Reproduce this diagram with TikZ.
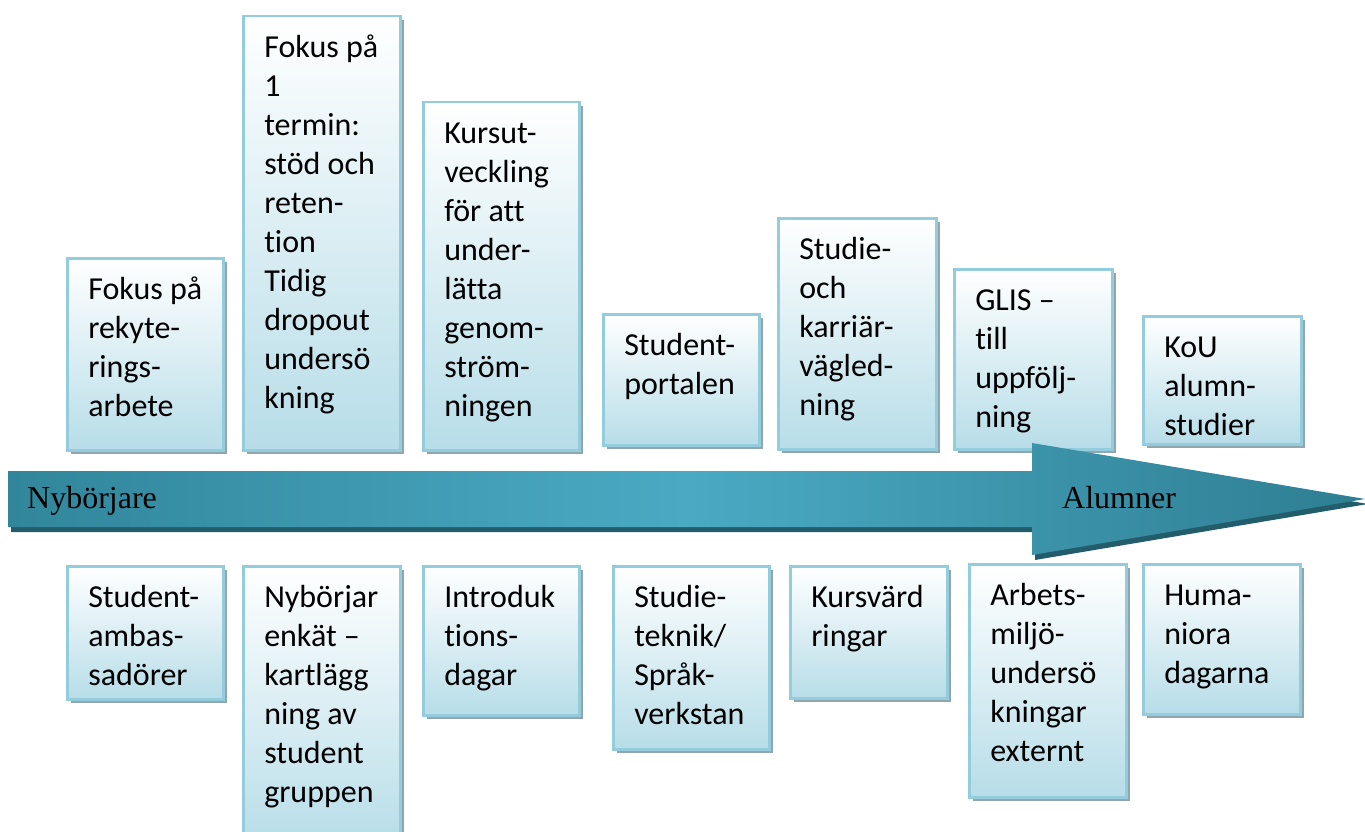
\documentclass[tikz,border=0pt]{standalone}
\usepackage{fontspec}
\setmainfont{Carlito}[Ligatures=NoCommon]
\newfontfamily\labelfont{Liberation Serif}
\usetikzlibrary{shadows}
\definecolor{boxborder}{HTML}{93CDDD}
\definecolor{boxbottom}{HTML}{B7DDE8}
\definecolor{boxshadow}{HTML}{8FA6AE}
\definecolor{arrowdark}{HTML}{31869B}
\definecolor{arrowlight}{HTML}{4AAAC3}
\definecolor{arrowend}{HTML}{2E7E92}
\definecolor{arrowshadow}{HTML}{235D6B}
\newcommand\btext[3]{\parbox[c][#1][t]{#2}{\fontsize{32}{39}\selectfont\leftskip=21pt\rightskip=0pt plus 1fil\parindent=0pt\vspace*{14pt}\strut #3\par}}
\begin{document}
\begin{tikzpicture}[x=1pt,y=-1pt,
  tbox/.style={draw=boxborder, line width=2.5pt, top color=white, bottom color=boxbottom,
    inner sep=0pt, anchor=north west,
    drop shadow={shadow xshift=4pt, shadow yshift=-4pt, fill=boxshadow, opacity=1}},
  lbl/.style={font=\labelfont\fontsize{32}{38}\selectfont, anchor=base west, inner sep=0pt}]
\useasboundingbox (0,0) rectangle (1365,832);
\clip (0,0) rectangle (1365,832);
% top row
\node[tbox] (t1) at (66,257)  {\btext{192pt}{156pt}{Fokus på\\rekyte-\\rings-\\arbete}};
\node[tbox] (t2) at (242,15)  {\btext{434pt}{157pt}{Fokus på\\1\\termin:\\stöd och\\reten-\\tion\\Tidig\\dropout\\undersö\\kning}};
\node[tbox] (t3) at (422,101) {\btext{348pt}{156pt}{Kursut-\\veckling\\för att\\under-\\lätta\\genom-\\ström-\\ningen}};
\node[tbox] (t4) at (602,313) {\btext{131pt}{156pt}{Student-\\portalen}};
\node[tbox] (t5) at (777,217) {\btext{231pt}{158pt}{Studie-\\och\\karriär-\\vägled-\\ning}};
\node[tbox] (t6) at (953,268) {\btext{180pt}{158pt}{GLIS –\\till\\uppfölj-\\ning}};
\node[tbox] (t7) at (1142,315){\btext{128pt}{158pt}{KoU\\alumn-\\studier}};
% bottom row
\node[tbox] (b1) at (66,565)  {\btext{133pt}{156pt}{Student-\\ambas-\\sadörer}};
\node[tbox] (b2) at (242,565) {\btext{280pt}{157pt}{Nybörjar\\enkät –\\kartlägg\\ning av\\student\\gruppen}};
\node[tbox] (b3) at (422,565) {\btext{149pt}{156pt}{Introduk\\tions-\\dagar}};
\node[tbox] (b4) at (612,565) {\btext{183pt}{156pt}{Studie-\\teknik/\\Språk-\\verkstan}};
\node[tbox] (b5) at (789,565) {\btext{132pt}{157pt}{Kursvärd\\ringar}};
\node[tbox] (b6) at (968,563) {\btext{233pt}{157pt}{Arbets-\\miljö-\\undersö\\kningar\\externt}};
\node[tbox] (b7) at (1142,563){\btext{150pt}{157pt}{Huma-\\niora\\dagarna}};
% arrow
\fill[arrowshadow, shift={(3,5)}] (8,471) -- (1032,471) -- (1032,443) -- (1365,499) -- (1032,555) -- (1032,527) -- (8,527) -- cycle;
\shade[left color=arrowdark, right color=arrowend, middle color=arrowlight] (8,471) -- (1032,471) -- (1032,443) -- (1365,499) -- (1032,555) -- (1032,527) -- (8,527) -- cycle;
\node[lbl] (start) at (27,508) {Nybörjare};
\node[lbl] (end) at (1062,508) {Alumner};
\end{tikzpicture}
\end{document}
